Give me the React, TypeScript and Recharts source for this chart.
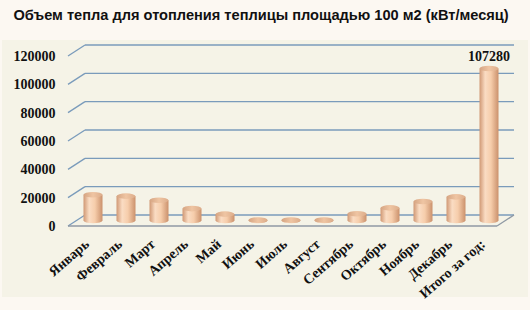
import * as React from "react"
import { Bar, BarChart, CartesianGrid, LabelList, ReferenceLine, XAxis, YAxis } from "recharts"

const months = [
  "Январь",
  "Февраль",
  "Март",
  "Апрель",
  "Май",
  "Июнь",
  "Июль",
  "Август",
  "Сентябрь",
  "Октябрь",
  "Ноябрь",
  "Декабрь",
  "Итого за год:",
]
const heat = [18200, 17200, 14300, 8400, 4500, 300, 300, 300, 4800, 8900, 13400, 16680, 107280]
const yTicks = [0, 20000, 40000, 60000, 80000, 100000, 120000]

const data = months.map((name, i) => ({ name, value: heat[i] }))

const TITLE = "Объем тепла для отопления теплицы площадью 100 м2 (кВт/месяц)"
const SERIF = "'Liberation Serif', 'Times New Roman', serif"
const GRID = "#7a9bbb"
// half of the 3d depth offset (back wall = +dx/-dy, front edge = -dx/+dy)
const DX = 8.5
const DY = 5.5

const Cylinder = (props: any) => {
  const { x, y, width, height } = props
  const cx = x + width / 2
  const rx = width / 2
  const ry = 2.8
  return (
    <g>
      <ellipse cx={cx} cy={y + height} rx={rx} ry={ry} fill="url(#cylSide)" />
      <rect x={x} y={y} width={width} height={Math.max(height, 0)} fill="url(#cylSide)" />
      <ellipse cx={cx} cy={y} rx={rx} ry={ry} fill="url(#cylTop)" />
    </g>
  )
}

const BackLine = (props: any) => {
  const { x1, y1, x2 } = props
  return (
    <g key={props.key}>
      <line x1={x1 + DX} y1={y1 - DY} x2={x2 + DX} y2={y1 - DY} stroke={GRID} strokeWidth={1.3} />
      <line x1={x1 - DX} y1={y1 + DY} x2={x1 + DX} y2={y1 - DY} stroke={GRID} strokeWidth={1.3} />
    </g>
  )
}

const Floor = (props: any) => {
  const { x1, y1, x2 } = props
  return (
    <g>
      <line x1={x1 - DX} y1={y1 + DY} x2={x2 - DX} y2={y1 + DY} stroke="#8f99a4" strokeWidth={1.3} />
      <line x1={x2 - DX} y1={y1 + DY} x2={x2 + DX} y2={y1 - DY} stroke="#8f99a4" strokeWidth={1.3} />
    </g>
  )
}

const YTick = (props: any) => {
  const { y, payload } = props
  return (
    <text x={55.5} y={y + DY} dy={5} textAnchor="end" fontFamily={SERIF} fontWeight="bold" fontSize={14} fill="#111">
      {payload.value}
    </text>
  )
}

const XTick = (props: any) => {
  const { x, y, payload } = props
  return (
    <text
      transform={`translate(${x - 3},${y + 25}) rotate(-41)`}
      textAnchor="end"
      fontFamily={SERIF}
      fontWeight="bold"
      fontSize={14}
      fill="#111"
    >
      {payload.value}
    </text>
  )
}

const TotalLabel = (props: any) => {
  const { x, y, width, value, index } = props
  if (index !== months.length - 1) return null
  return (
    <text x={x + width / 2} y={y - 8} textAnchor="middle" fontFamily={SERIF} fontWeight="bold" fontSize={14} fill="#111">
      {value}
    </text>
  )
}

export default function App() {
  return (
    <div style={{ position: "absolute", left: 0, top: 0, width: 530, height: 310, background: "#fcf8f2" }}>
      <div style={{ position: "absolute", left: 2, top: 40, width: 526, height: 257, background: "#f5f3e7" }} />
      <div
        style={{
          position: "absolute",
          left: 0,
          top: 7,
          width: 522,
          textAlign: "center",
          fontFamily: "'Liberation Sans', Arial, sans-serif",
          fontWeight: "bold",
          fontSize: 14.6,
          color: "#111",
        }}
      >
        {TITLE}
      </div>
      <div style={{ position: "absolute", left: 0, top: 0 }}>
        <BarChart width={530} height={310} data={data} margin={{ top: 50.5, right: 24.5, left: 0, bottom: 29.5 }}>
          <defs>
            <linearGradient id="cylSide" x1="0" y1="0" x2="1" y2="0">
              <stop offset="0%" stopColor="#d09874" />
              <stop offset="30%" stopColor="#fadcc3" />
              <stop offset="60%" stopColor="#f6cdab" />
              <stop offset="100%" stopColor="#cb916c" />
            </linearGradient>
            <linearGradient id="cylTop" x1="0" y1="0" x2="1" y2="0">
              <stop offset="0%" stopColor="#d5a482" />
              <stop offset="50%" stopColor="#efc5a3" />
              <stop offset="100%" stopColor="#dcac8a" />
            </linearGradient>
          </defs>
          <CartesianGrid vertical={false} horizontal={BackLine} />
          <ReferenceLine y={0} shape={Floor} />
          <XAxis
            dataKey="name"
            interval={0}
            height={60}
            axisLine={false}
            tickLine={false}
            tickSize={0}
            tickMargin={0}
            tick={XTick}
          />
          <YAxis
            domain={[0, 120000]}
            ticks={yTicks}
            width={76.5}
            axisLine={false}
            tickLine={false}
            tick={YTick}
          />
          <Bar dataKey="value" barSize={19} shape={Cylinder} isAnimationActive={false}>
            <LabelList dataKey="value" content={TotalLabel} />
          </Bar>
        </BarChart>
      </div>
    </div>
  )
}
